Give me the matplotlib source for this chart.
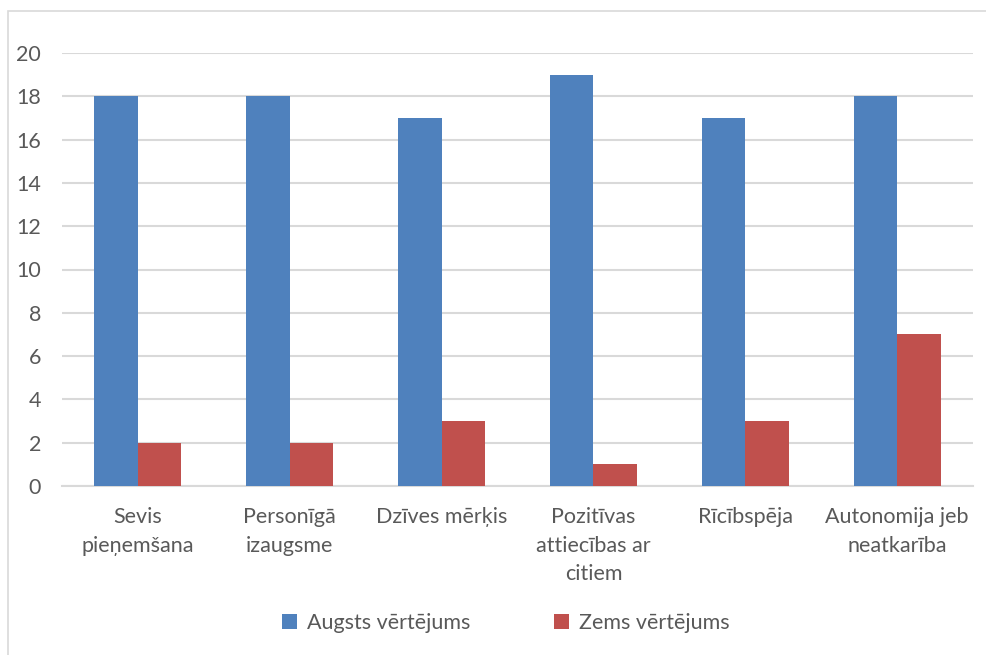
import matplotlib.pyplot as plt
import numpy as np
from matplotlib.patches import Rectangle

categories = ['Sevis\npieņemšana', 'Personīgā\nizaugsme', 'Dzīves mērķis',
              'Pozitīvas\nattiecības ar\ncitiem', 'Rīcībspēja',
              'Autonomija jeb\nneatkarība']
augsts = [18, 18, 17, 19, 17, 18]
zems = [2, 2, 3, 1, 3, 7]
yticks = [0, 2, 4, 6, 8, 10, 12, 14, 16, 18, 20]

plt.rcParams['font.family'] = ['Lato', 'DejaVu Sans']

W, H = 986, 655
fig = plt.figure(figsize=(W / 100, H / 100), dpi=100)

# chart border
fig.patches.append(Rectangle((8 / W, -0.05), 1.0, 1.05 - 11 / H, transform=fig.transFigure,
                             fill=False, edgecolor='#D9D9D9', linewidth=1.2))

left, right, top, bottom = 62, 973, 53, 486
ax = fig.add_axes([left / W, 1 - bottom / H, (right - left) / W, (bottom - top) / H])

x = np.arange(len(categories))
w = 0.287
ax.bar(x - w / 2, augsts, w, color='#4F81BD', label='Augsts vērtējums', zorder=3)
ax.bar(x + w / 2, zems, w, color='#C0504D', label='Zems vērtējums', zorder=3)

ax.set_xlim(-0.5, len(categories) - 0.5)
ax.set_ylim(0, 20)
ax.set_yticks(yticks)
ax.grid(axis='y', color='#D9D9D9', linewidth=1.5, zorder=0)
for s in ['top', 'right', 'left']:
    ax.spines[s].set_visible(False)
ax.spines['bottom'].set_color('#D9D9D9')
ax.spines['bottom'].set_linewidth(1.5)
ax.set_xticks(x)
ax.set_xticklabels(categories, linespacing=1.55)
ax.tick_params(axis='both', length=0, labelsize=15.5, labelcolor='#595959')
ax.tick_params(axis='y', pad=15)
ax.tick_params(axis='x', pad=15)

fig.legend(loc='center', bbox_to_anchor=(506 / W, 1 - 623 / H), ncol=2, frameon=False,
           fontsize=15.5, labelcolor='#595959', handlelength=0.7, handleheight=0.7,
           handletextpad=0.45, columnspacing=3.9)

fig.savefig('out.png', dpi=100)
